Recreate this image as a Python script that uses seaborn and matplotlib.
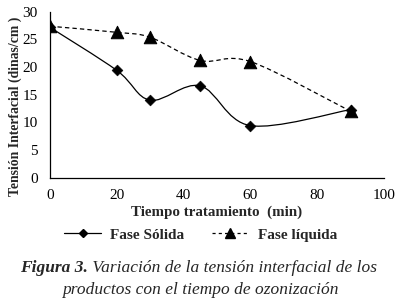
import numpy as np
import pandas as pd
import seaborn as sns
import matplotlib
matplotlib.use("Agg")
import matplotlib.pyplot as plt
from matplotlib.path import Path
from matplotlib.patches import PathPatch
from matplotlib.lines import Line2D

tiempo = [0, 20, 30, 45, 60, 90]
fase_solida = [27.2, 19.4, 14.0, 16.6, 9.4, 12.3]
fase_liquida = [27.4, 26.3, 25.4, 21.2, 21.0, 12.0]
series_names = ["Fase Sólida", "Fase líquida"]
x_ticks = [0, 20, 40, 60, 80, 100]
y_ticks = [0, 5, 10, 15, 20, 25, 30]

sns.set_theme(style="white")
plt.rcParams['font.family'] = ['Liberation Serif', 'DejaVu Serif']

df = pd.DataFrame({
    "tiempo": tiempo * 2,
    "valor": fase_solida + fase_liquida,
    "serie": [series_names[0]] * len(tiempo) + [series_names[1]] * len(tiempo),
})

fig = plt.figure(figsize=(4.01, 3.05), dpi=100)
ax = fig.add_axes([0.1247, 0.418, 0.833, 0.543])


def smooth_path(xs, ys):
    pts = np.column_stack([xs, ys]).astype(float)
    n = len(pts)
    verts = [pts[0]]
    codes = [Path.MOVETO]
    for i in range(n - 1):
        p0 = pts[i - 1] if i > 0 else pts[i]
        p1 = pts[i]
        p2 = pts[i + 1]
        p3 = pts[i + 2] if i + 2 < n else pts[i + 1]
        c1 = p1 + (p2 - p0) / 6.0
        c2 = p2 - (p3 - p1) / 6.0
        verts += [c1, c2, p2]
        codes += [Path.CURVE4] * 3
    return Path(verts, codes)


styles = {
    series_names[0]: dict(ls="-", marker="D", ms=5.5),
    series_names[1]: dict(ls=(0, (3.5, 2.5)), marker="^", ms=9),
}

for name in series_names:
    sub = df[df.serie == name]
    st = styles[name]
    ax.add_patch(PathPatch(smooth_path(sub.tiempo.values, sub.valor.values),
                           fill=False, edgecolor="black", lw=0.9, ls=st["ls"], zorder=2))
    sns.scatterplot(data=sub, x="tiempo", y="valor", marker=st["marker"],
                    s=st["ms"] ** 2, color="black", edgecolor="black",
                    ax=ax, zorder=3, legend=False)

ax.set_xlim(0, 100)
ax.set_ylim(0, 30)
ax.set_xticks(x_ticks)
ax.set_yticks(y_ticks)
ax.tick_params(axis="both", labelsize=11, colors="black", width=0.8)
ax.tick_params(axis="y", direction="inout", length=6, pad=6)
ax.tick_params(axis="x", direction="out", length=4, pad=4.5)
for s in ["top", "right"]:
    ax.spines[s].set_visible(False)
for s in ["left", "bottom"]:
    ax.spines[s].set_color("black")
    ax.spines[s].set_linewidth(0.9)

ax.set_xlabel("Tiempo tratamiento  (min)", fontsize=10.8, fontweight="bold")
ax.xaxis.set_label_coords(0.5, -0.17)
ax.set_ylabel("Tensión Interfacial (dinas/cm )", fontsize=9.9, fontweight="bold")
ax.yaxis.set_label_coords(-0.084, 0.43)

handles = [
    Line2D([0], [0], color="black", lw=0.9, ls="-", marker="D", ms=4.5),
    Line2D([0], [0], color="black", lw=0.9, ls=(0, (2.5, 2.5)), marker="^", ms=7),
]
leg = fig.legend(handles, series_names, loc="center", bbox_to_anchor=(0.5, 0.23),
                 ncol=2, frameon=False, handlelength=2.4, columnspacing=1.8,
                 handletextpad=0.6,
                 prop={"family": "Liberation Serif", "weight": "bold", "size": 11})

t1 = fig.text(20 / 401, 1 - 268 / 305, "Figura 3.", fontsize=12.5, style="italic",
              fontweight="bold", ha="left", va="center")
fig.canvas.draw()
ax.annotate(" Variación de la tensión interfacial de los", xy=(1, 0.5),
            xycoords=t1, fontsize=12.5, style="italic", ha="left", va="center",
            annotation_clip=False)
fig.text(0.5, 1 - 290 / 305, "productos con el tiempo de ozonización", fontsize=12.5,
         style="italic", ha="center", va="center")

fig.savefig("out.png", dpi=100, facecolor="white")
